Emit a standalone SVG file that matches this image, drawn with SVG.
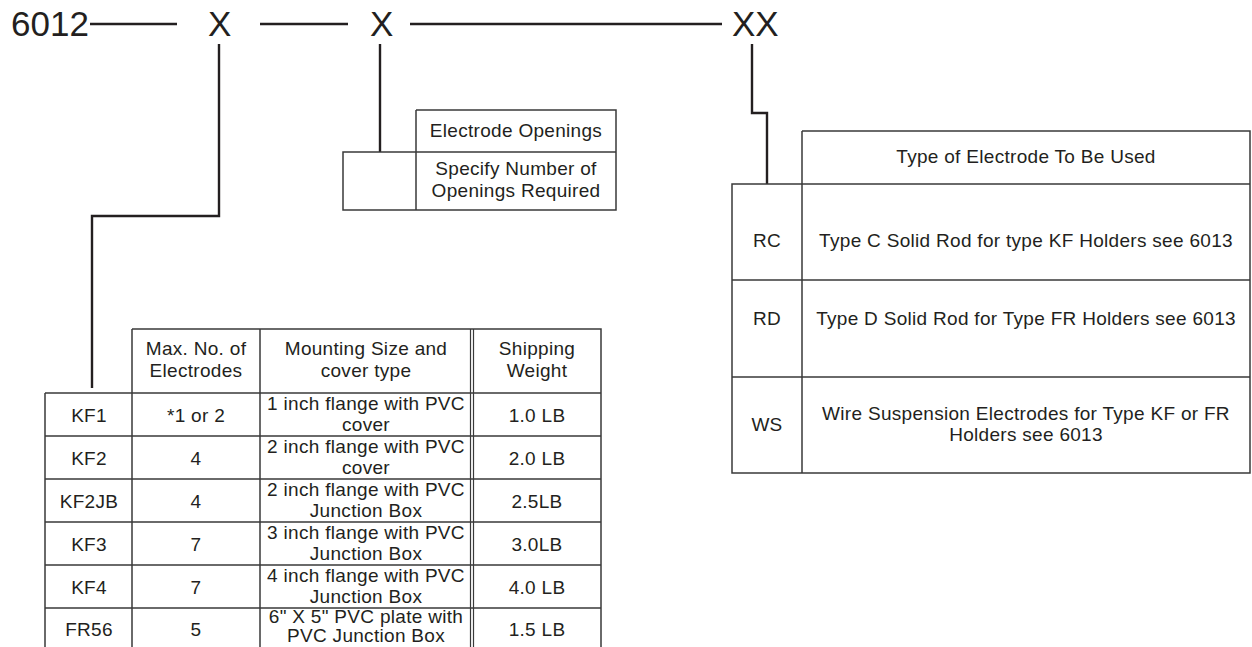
<svg xmlns="http://www.w3.org/2000/svg" width="1252" height="647" viewBox="0 0 1252 647">
<style>
text{font-family:"Liberation Sans",Arial,sans-serif;fill:#231f20}
.big{font-size:35px}
.t{font-size:19px;letter-spacing:0.3px;text-anchor:middle}
.conn{fill:none;stroke:#231f20;stroke-width:2.4}
.grid{fill:none;stroke:#3a3a3a;stroke-width:1.5}
</style>
<rect width="1252" height="647" fill="#fff"/>
<g id="code">
<text class="big" x="11" y="36">6012</text>
<text class="big" x="208" y="36">X</text>
<text class="big" x="370" y="36">X</text>
<text class="big" x="732" y="36">XX</text>
</g>
<g id="connectors">
<line class="conn" x1="90" y1="24" x2="177" y2="24"/>
<line class="conn" x1="260" y1="24" x2="348" y2="24"/>
<line class="conn" x1="410" y1="24" x2="722" y2="24"/>
<path class="conn" d="M219,44 V216 H92 V388"/>
<path class="conn" d="M380,44 V152"/>
<path class="conn" d="M752,44 V113 H767 V184"/>
</g>
<g id="openings">
<path class="grid" d="M416,110 H616 V210 H343 V152 H616 M416,110 V210"/>
<text class="t" x="516" y="137">Electrode Openings</text>
<text class="t" x="516" y="175">Specify Number of</text>
<text class="t" x="516" y="197">Openings Required</text>
</g>
<g id="electrode-type">
<path class="grid" d="M802,131 H1250 V473 H732 V184 H1250 M802,131 V473 M732,280 H1250 M732,377 H1250"/>
<text class="t" x="1026" y="163">Type of Electrode To Be Used</text>
<text class="t" x="767" y="247">RC</text>
<text class="t" x="1026" y="247">Type C Solid Rod for type KF Holders see 6013</text>
<text class="t" x="767" y="325">RD</text>
<text class="t" x="1026" y="325">Type D Solid Rod for Type FR Holders see 6013</text>
<text class="t" x="767" y="431">WS</text>
<text class="t" x="1026" y="420">Wire Suspension Electrodes for Type KF or FR</text>
<text class="t" x="1026" y="441">Holders see 6013</text>
</g>
<g id="holders">
<path class="grid" d="M132,329 H601 V660 M132,329 V660 M260,329 V660 M45,393 V660 M45,393 H601 M45,436 H601 M45,479 H601 M45,522 H601 M45,565 H601 M45,608 H601"/>
<path class="grid" d="M470.5,329 V660 M473.5,329 V660" style="stroke-width:1.2"/>
<text class="t" x="196" y="355">Max. No. of</text>
<text class="t" x="196" y="377">Electrodes</text>
<text class="t" x="366" y="355">Mounting Size and</text>
<text class="t" x="366" y="377">cover type</text>
<text class="t" x="537" y="355">Shipping</text>
<text class="t" x="537" y="377">Weight</text>

<text class="t" x="89" y="422">KF1</text>
<text class="t" x="196" y="422">*1 or 2</text>
<text class="t" x="366" y="410">1 inch flange with PVC</text>
<text class="t" x="366" y="431">cover</text>
<text class="t" x="537" y="422">1.0 LB</text>

<text class="t" x="89" y="465">KF2</text>
<text class="t" x="196" y="465">4</text>
<text class="t" x="366" y="453">2 inch flange with PVC</text>
<text class="t" x="366" y="474">cover</text>
<text class="t" x="537" y="465">2.0 LB</text>

<text class="t" x="89" y="508">KF2JB</text>
<text class="t" x="196" y="508">4</text>
<text class="t" x="366" y="496">2 inch flange with PVC</text>
<text class="t" x="366" y="517">Junction Box</text>
<text class="t" x="537" y="508">2.5LB</text>

<text class="t" x="89" y="551">KF3</text>
<text class="t" x="196" y="551">7</text>
<text class="t" x="366" y="539">3 inch flange with PVC</text>
<text class="t" x="366" y="560">Junction Box</text>
<text class="t" x="537" y="551">3.0LB</text>

<text class="t" x="89" y="594">KF4</text>
<text class="t" x="196" y="594">7</text>
<text class="t" x="366" y="582">4 inch flange with PVC</text>
<text class="t" x="366" y="603">Junction Box</text>
<text class="t" x="537" y="594">4.0 LB</text>

<text class="t" x="89" y="636">FR56</text>
<text class="t" x="196" y="636">5</text>
<text class="t" x="366" y="623">6" X 5" PVC plate with</text>
<text class="t" x="366" y="642">PVC Junction Box</text>
<text class="t" x="537" y="636">1.5 LB</text>
</g>
</svg>
